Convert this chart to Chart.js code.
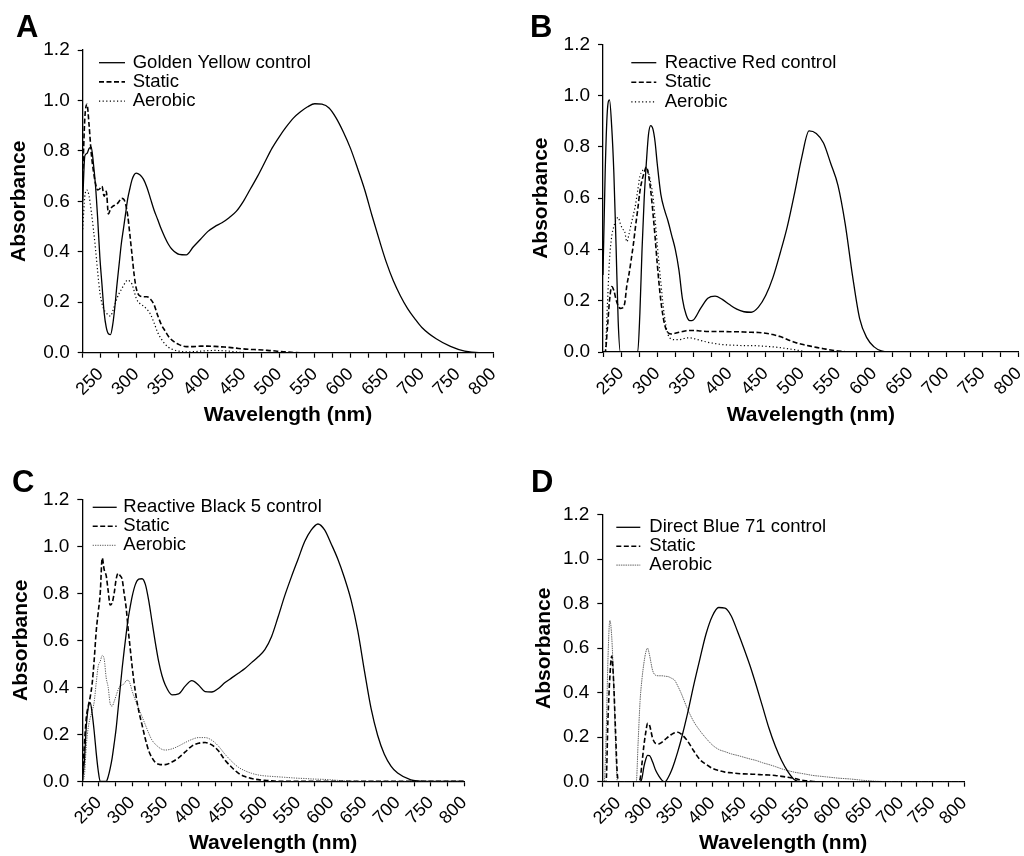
<!DOCTYPE html>
<html>
<head>
<meta charset="utf-8">
<title>Absorbance spectra of dye decolourisation</title>
<script src="https://cdn.jsdelivr.net/npm/chart.js@4.4.1/dist/chart.umd.min.js"></script>
<style>
  body { margin: 0; background: #fff; }
  #page { position: relative; width: 1024px; height: 856px; overflow: hidden; background: #fff; }
  #page canvas { position: absolute; left: 0; top: 0; }
  .tag { position: absolute; font: bold 31px "Liberation Sans", Arial, sans-serif; line-height: 1; color: #000; }
</style>
</head>
<body>
<div id="page">
  <canvas id="chartA" width="1024" height="856"></canvas>
  <canvas id="chartB" width="1024" height="856"></canvas>
  <canvas id="chartC" width="1024" height="856"></canvas>
  <canvas id="chartD" width="1024" height="856"></canvas>
  <div class="tag" style="left:16px;top:11px">A</div>
  <div class="tag" style="left:530px;top:11px">B</div>
  <div class="tag" style="left:12px;top:466px">C</div>
  <div class="tag" style="left:531px;top:466px">D</div>
</div>
<script>
// wavelength grid (nm), shared by all four panels
var wavelengths = [225,228,231,234,237,240,243,246,249,252,
  255,258,261,264,267,270,273,276,279,282,
  285,288,291,294,297,300,
  305,310,315,320,325,330,335,340,345,350,
  360,370,380,390,400,410,420,430,440,450,
  460,470,480,490,500,510,520,530,540,550,
  560,570,580,590,600,610,620,630,640,650,
  660,670,680,690,700,
  720,740,760,780,800];

var xTickLabels = [250,300,350,400,450,500,550,600,650,700,750,800];
var yTickLabels = ['0.0','0.2','0.4','0.6','0.8','1.0','1.2'];
var seriesNames = ['Static', 'Aerobic'];

// A - Golden Yellow
var goldenControl = [.60,.78,.79,.81,.815,.75,.66,.53,.38,.27,
  .16,.10,.075,.072,.11,.18,.27,.35,.43,.49,
  .55,.61,.65,.685,.705,.712,
  .705,.688,.655,.61,.565,.528,.49,.458,.43,.41,
  .39,.388,.42,.45,.48,.50,.515,.535,.56,.60,
  .65,.70,.755,.81,.855,.895,.93,.955,.975,.987,
  .985,.97,.93,.875,.81,.73,.645,.545,.45,.36,
  .285,.225,.175,.135,.10,
  .055,.025,.006,0,0];
var goldenStatic = [.70,.93,.985,.90,.79,.72,.67,.645,.65,.66,
  .62,.64,.55,.57,.58,.585,.59,.60,.612,.61,
  .59,.545,.47,.39,.31,.255,
  .225,.222,.222,.212,.19,.148,.112,.088,.065,.05,
  .032,.024,.024,.026,.026,.025,.023,.021,.018,.015,
  .013,.012,.01,.008,.005,.003,.001,0,0,0,
  0,0,0,0,0,0,0,0,0,0,
  0,0,0,0,0,
  0,0,0,0,0];
var goldenAerobic = [.49,.62,.645,.62,.56,.49,.41,.32,.24,.195,
  .17,.158,.148,.145,.165,.19,.215,.235,.25,.265,
  .28,.288,.283,.272,.245,.215,
  .195,.185,.172,.152,.118,.08,.055,.035,.022,.014,
  .006,.003,.004,.006,.008,.009,.008,.006,.003,.001,
  0,0,0,0,0,0,0,0,0,0,
  0,0,0,0,0,0,0,0,0,0,
  0,0,0,0,0,
  0,0,0,0,0];

// B - Reactive Red
var redControl = [.30,.70,.94,.983,.88,.70,.42,.12,0,0,
  0,0,0,0,0,0,0,.15,.40,.60,
  .74,.85,.883,.87,.82,.735,
  .615,.555,.51,.455,.40,.32,.205,.145,.122,.125,
  .17,.21,.218,.205,.185,.167,.157,.155,.175,.22,
  .29,.385,.49,.62,.76,.862,.852,.815,.735,.65,
  .50,.30,.13,.055,.02,.004,0,0,0,0,
  0,0,0,0,0,
  0,0,0,0,0];
var redStatic = [0,0,.09,.20,.255,.24,.205,.18,.17,.172,
  .19,.26,.305,.36,.42,.49,.555,.625,.67,.70,
  .722,.69,.63,.545,.45,.345,
  .20,.11,.075,.07,.073,.077,.08,.083,.084,.084,
  .082,.08,.08,.08,.079,.079,.078,.077,.076,.073,
  .068,.06,.049,.038,.03,.024,.018,.013,.008,.004,
  .001,0,0,0,0,0,0,0,0,0,
  0,0,0,0,0,
  0,0,0,0,0];
var redAerobic = [0,0,.18,.36,.45,.49,.515,.525,.50,.48,
  .47,.43,.46,.50,.535,.575,.63,.685,.705,.712,
  .715,.70,.66,.61,.52,.42,
  .27,.14,.068,.05,.048,.048,.05,.055,.055,.053,
  .045,.038,.033,.029,.027,.026,.025,.025,.024,.022,
  .02,.017,.013,.009,.004,0,0,0,0,0,
  0,0,0,0,0,0,0,0,0,0,
  0,0,0,0,0,
  0,0,0,0,0];

// C - Reactive Black 5
var blackControl = [0,.08,.232,.315,.335,.285,.21,.12,.045,0,
  0,0,0,.02,.055,.10,.16,.225,.31,.395,
  .48,.555,.625,.69,.74,.785,
  .838,.86,.862,.838,.77,.68,.59,.51,.45,.41,
  .368,.372,.405,.428,.41,.382,.38,.395,.42,.44,
  .46,.48,.505,.53,.56,.615,.70,.79,.87,.945,
  1.02,1.07,1.095,1.07,1.01,.945,.865,.77,.64,.47,
  .31,.195,.115,.065,.035,
  .006,0,0,0,0];
var blackStatic = [0,.15,.27,.32,.36,.42,.52,.64,.72,.80,
  .95,.90,.875,.81,.75,.76,.80,.86,.885,.875,
  .86,.80,.74,.65,.57,.49,
  .38,.30,.24,.18,.13,.10,.08,.073,.071,.071,
  .082,.10,.125,.15,.162,.165,.155,.13,.09,.06,
  .035,.02,.012,.007,.004,.002,0,0,0,0,
  0,0,0,0,0,0,0,0,0,0,
  0,0,0,0,0,
  0,0,0,0,0];
var blackAerobic = [0,.02,.15,.23,.27,.30,.34,.42,.49,.51,
  .535,.52,.44,.40,.33,.32,.34,.365,.39,.405,
  .41,.415,.428,.43,.415,.385,
  .345,.31,.275,.24,.205,.175,.158,.145,.136,.133,
  .138,.15,.165,.178,.186,.186,.175,.15,.115,.085,
  .06,.045,.034,.027,.023,.021,.019,.017,.015,.013,
  .012,.01,.009,.008,.006,.004,.002,.001,0,0,
  0,0,0,0,0,
  0,0,0,0,0];

// D - Direct Blue 71
var blueControl = [0,0,0,0,0,0,0,0,0,0,
  0,0,0,0,0,0,0,0,0,0,
  0,.015,.065,.10,.118,.117,
  .088,.05,.025,.006,0,.02,.05,.09,.135,.185,
  .30,.43,.55,.665,.745,.783,.78,.745,.675,.60,
  .52,.43,.335,.24,.16,.095,.045,.01,0,0,
  0,0,0,0,0,0,0,0,0,0,
  0,0,0,0,0,
  0,0,0,0,0];
var blueStatic = [0,0,0,.28,.47,.565,.45,.23,.03,0,
  0,0,0,0,0,0,0,0,0,0,
  .01,.08,.16,.22,.262,.255,
  .195,.172,.17,.178,.19,.202,.212,.22,.222,.215,
  .185,.14,.10,.078,.06,.05,.043,.04,.037,.035,
  .034,.033,.031,.03,.028,.024,.02,.015,.008,.004,
  .001,0,0,0,0,0,0,0,0,0,
  0,0,0,0,0,
  0,0,0,0,0];
var blueAerobic = [0,0,.20,.55,.725,.65,.45,.18,0,0,
  0,0,0,0,0,0,0,0,0,.18,
  .36,.46,.53,.58,.60,.57,
  .50,.478,.476,.476,.474,.472,.465,.456,.43,.40,
  .33,.272,.23,.195,.165,.145,.135,.125,.118,.11,
  .102,.095,.085,.077,.068,.058,.05,.043,.038,.033,
  .028,.025,.022,.019,.016,.014,.012,.009,.006,.004,
  .002,.001,0,0,0,
  0,0,0,0,0];

// line styles
var solidLine = { borderColor: '#000', borderWidth: 1.3, borderDash: [] };
var dashedLine = { borderColor: '#000', borderWidth: 1.6, borderDash: [5, 2.5] };
var dottedLine = { borderColor: '#000', borderWidth: 1.2, borderDash: [1.2, 2.4] };
var greyDotted = { borderColor: '#555', borderWidth: 1, borderDash: [1.2, 1.2] };
var greyFine = { borderColor: '#666', borderWidth: 1, borderDash: [1.5, 0.8] };

var FONT = '"Liberation Sans", Arial, sans-serif';
Chart.defaults.font.family = FONT;
Chart.defaults.color = '#000';

// draws the line-sample legend inside the plot area
var lineLegend = {
  id: 'lineLegend',
  afterDatasetsDraw: function(chart, args, opts) {
    var ctx = chart.ctx, area = chart.chartArea;
    ctx.save();
    ctx.font = opts.size + 'px ' + FONT;
    ctx.textBaseline = 'middle';
    ctx.fillStyle = '#000';
    chart.data.datasets.forEach(function(ds, i) {
      var y = area.top + opts.y + i * opts.row;
      var x = area.left + opts.x;
      ctx.strokeStyle = ds.borderColor;
      ctx.lineWidth = ds.borderWidth;
      ctx.setLineDash(ds.borderDash || []);
      ctx.beginPath();
      ctx.moveTo(x, y);
      ctx.lineTo(x + opts.len, y);
      ctx.stroke();
      ctx.setLineDash([]);
      ctx.fillText(ds.label, area.left + opts.text, y);
    });
    ctx.restore();
  }
};

function points(values) {
  return wavelengths.map(function(w, i) { return { x: w, y: values[i] }; });
}

function dataset(label, values, style) {
  return {
    label: label,
    data: points(values),
    borderColor: style.borderColor,
    borderWidth: style.borderWidth,
    borderDash: style.borderDash,
    pointRadius: 0,
    fill: false,
    cubicInterpolationMode: 'monotone'
  };
}

function makePanel(id, controlName, series, styles, box, legend) {
  var half = 12.6; // half line height of the 21px axis titles
  var padLeft = box.yTitle - half;
  var padBottom = Math.max(0, 856 - box.xTitle - half);
  var yWidth = box.left - padLeft;
  var xHeight = 856 - padBottom - box.bottom;
  var names = [controlName].concat(seriesNames);

  new Chart(document.getElementById(id).getContext('2d'), {
    type: 'line',
    data: {
      datasets: series.map(function(vals, i) { return dataset(names[i], vals, styles[i]); })
    },
    options: {
      responsive: false,
      animation: false,
      layout: { padding: { left: padLeft, top: box.top, right: 1024 - box.right, bottom: padBottom } },
      plugins: {
        legend: { display: false },
        tooltip: { enabled: false },
        lineLegend: legend
      },
      scales: {
        x: {
          type: 'linear', min: 225, max: 800,
          afterFit: function(s) { s.height = xHeight; s.paddingLeft = 0; s.paddingRight = 0; },
          border: { color: '#000', width: 1.3 },
          grid: { drawOnChartArea: false, tickLength: 5, tickColor: '#000', tickWidth: 1.2 },
          ticks: {
            stepSize: 25, autoSkip: false, minRotation: 45, maxRotation: 45,
            padding: 6, font: { size: 18 },
            callback: function(v) { return xTickLabels.indexOf(v) >= 0 ? String(v) : ''; }
          },
          title: { display: true, text: 'Wavelength (nm)', padding: 0, font: { size: 21, weight: 'bold', lineHeight: 1.2 } }
        },
        y: {
          type: 'linear', min: 0, max: 1.2,
          afterFit: function(s) { s.width = yWidth; },
          border: { color: '#000', width: 1.3 },
          grid: { drawOnChartArea: false, tickLength: 5, tickColor: '#000', tickWidth: 1.2 },
          ticks: {
            stepSize: 0.1, padding: 8, font: { size: 19 },
            callback: function(v) {
              var k = Math.round(v * 10);
              return k % 2 === 0 ? yTickLabels[k / 2] : '';
            }
          },
          title: { display: true, text: 'Absorbance', padding: 0, font: { size: 21, weight: 'bold', lineHeight: 1.2 } }
        }
      }
    },
    plugins: [lineLegend]
  });
}

makePanel('chartA', 'Golden Yellow control', [goldenControl, goldenStatic, goldenAerobic],
  [solidLine, dashedLine, dottedLine],
  { left: 82.7, top: 50, right: 493.3, bottom: 352.7, yTitle: 19.4, xTitle: 415.7 },
  { x: 16.3, y: 12.7, row: 19.2, len: 26, text: 50, size: 18.5 });

makePanel('chartB', 'Reactive Red control', [redControl, redStatic, redAerobic],
  [solidLine, dashedLine, dottedLine],
  { left: 603, top: 44.3, right: 1018.7, bottom: 352, yTitle: 541.4, xTitle: 415.7 },
  { x: 28.3, y: 18.4, row: 19.6, len: 25, text: 61.7, size: 18.5 });

makePanel('chartC', 'Reactive Black 5 control', [blackControl, blackStatic, blackAerobic],
  [solidLine, dashedLine, greyDotted],
  { left: 82.3, top: 499.3, right: 464, bottom: 781.3, yTitle: 21.0, xTitle: 843.4 },
  { x: 10.4, y: 8, row: 19, len: 24, text: 41, size: 18.5 });

makePanel('chartD', 'Direct Blue 71 control', [blueControl, blueStatic, blueAerobic],
  [solidLine, dashedLine, greyFine],
  { left: 602.3, top: 514.7, right: 964, bottom: 781.7, yTitle: 544.7, xTitle: 843.4 },
  { x: 14, y: 12.6, row: 18.9, len: 24, text: 47, size: 18.5 });
</script>
</body>
</html>
